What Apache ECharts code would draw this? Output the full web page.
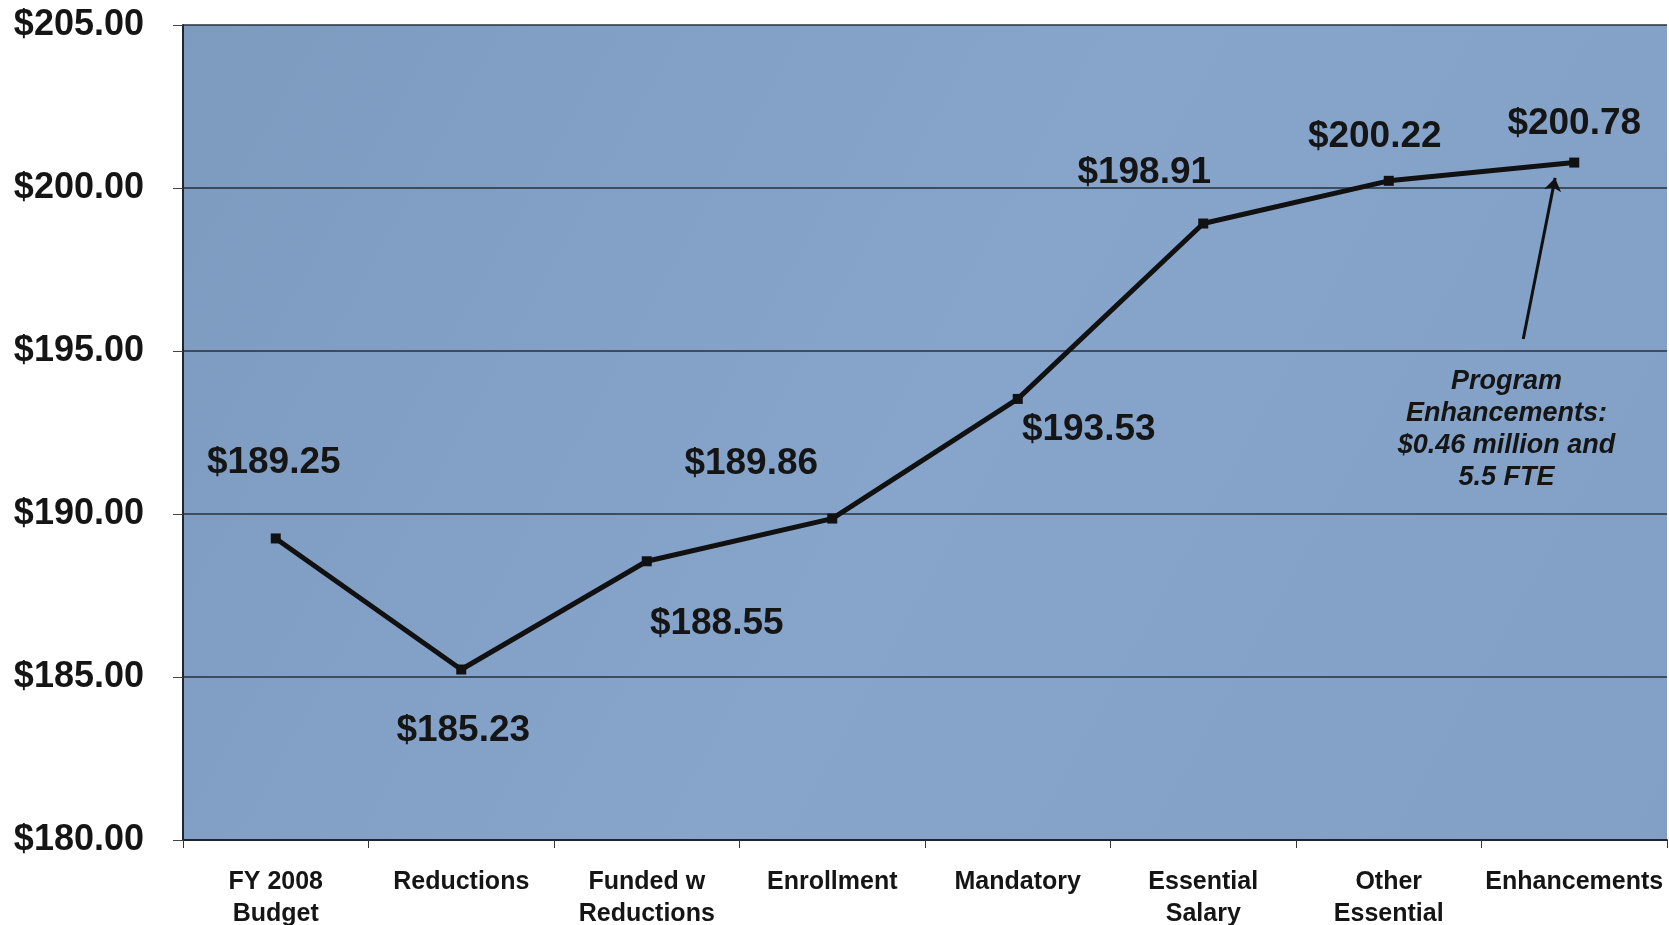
<!DOCTYPE html>
<html>
<head>
<meta charset="utf-8">
<script src="https://cdn.jsdelivr.net/npm/echarts@6/dist/echarts.min.js"></script>
<style>
html,body{margin:0;padding:0;background:#fff;}
#c{width:1669px;height:925px;}
</style>
</head>
<body>
<div id="c"></div>
<script>
// ---- data ----
const categories = ["FY 2008\nBudget", "Reductions", "Funded w\nReductions", "Enrollment", "Mandatory", "Essential\nSalary", "Other\nEssential", "Enhancements"];
const values = [189.25, 185.23, 188.55, 189.86, 193.53, 198.91, 200.22, 200.78];
const yTicks = { min: 180, max: 205, interval: 5 };
const noteText = "Program\nEnhancements:\n$0.46 million and\n5.5 FTE";
const noteAt = [6.635, 192.58];
const arrowFrom = [6.725, 195.37];
const arrowTo = [6.897, 200.31];

// ---- styling (label offsets in px) ----
const labelOffsets = [[-2,-76],[2,61],[70,63],[-81,-55],[71,31],[-59,-51],[-14,-44],[0,-39]];
const FONT = "'Liberation Sans',Arial,Helvetica,sans-serif";

const chart = echarts.init(document.getElementById('c'), null, {renderer:'canvas'});
chart.setOption({
  animation: false,
  backgroundColor: '#ffffff',
  grid: {
    left: 183, top: 25, right: 2, bottom: 85,
    outerBoundsMode: 'none',
    containLabel: false,
    show: true,
    borderWidth: 0,
    backgroundColor: new echarts.graphic.LinearGradient(0, 0, 1, 1, [
      {offset: 0, color: '#7d9abf'},
      {offset: 0.5, color: '#87a5cb'},
      {offset: 1, color: '#829fc6'}
    ])
  },
  xAxis: [{
    type: 'category',
    data: categories,
    boundaryGap: true,
    axisLine: {show: true, lineStyle: {color: '#1e2530', width: 2}},
    axisTick: {show: true, length: 8, alignWithLabel: false, lineStyle: {color: '#333', width: 1}},
    axisLabel: {
      interval: 0, margin: 26,
      fontFamily: FONT, fontWeight: 'bold', fontSize: 25, lineHeight: 32, color: '#151515'
    },
    splitLine: {show: false}
  }, {
    type: 'value', min: -0.5, max: 7.5, show: false,
    axisLine: {onZero: false}, splitLine: {show: false}
  }],
  yAxis: {
    type: 'value',
    min: yTicks.min, max: yTicks.max, interval: yTicks.interval,
    axisLine: {show: true, onZero: false, lineStyle: {color: '#1e2530', width: 2}},
    axisTick: {show: true, length: 10, lineStyle: {color: '#444', width: 1}},
    axisLabel: {
      margin: 39,
      fontFamily: FONT, fontWeight: 'bold', fontSize: 36, color: '#151515',
      formatter: v => '$' + v.toFixed(2)
    },
    splitLine: {show: true, lineStyle: {color: '#26303d', width: 1.5}}
  },
  series: [{
    type: 'line',
    xAxisIndex: 0,
    data: values.map((v, i) => ({
      value: v,
      label: {offset: labelOffsets[i]}
    })),
    symbol: 'rect',
    symbolSize: 10,
    itemStyle: {color: '#111'},
    lineStyle: {color: '#111', width: 5},
    label: {
      show: true, position: 'inside', align: 'center', verticalAlign: 'middle',
      fontFamily: FONT, fontWeight: 'bold', fontSize: 37, color: '#151515',
      formatter: p => '$' + p.value.toFixed(2)
    },
    z: 5
  }, {
    type: 'scatter',
    xAxisIndex: 1,
    data: [noteAt],
    symbolSize: 1,
    silent: true,
    itemStyle: {opacity: 1, color: 'rgba(0,0,0,0)'},
    label: {
      show: true, position: 'inside', align: 'center', verticalAlign: 'middle',
      fontFamily: FONT, fontWeight: 'bold', fontStyle: 'italic',
      fontSize: 27, lineHeight: 32, color: '#151515',
      formatter: () => noteText
    },
    markLine: {
      silent: true,
      symbol: ['none', 'arrow'],
      symbolSize: 13,
      label: {show: false},
      itemStyle: {color: '#111'},
      lineStyle: {color: '#111', width: 3, type: 'solid'},
      data: [[{coord: arrowFrom}, {coord: arrowTo}]]
    }
  }]
});
</script>
</body>
</html>
